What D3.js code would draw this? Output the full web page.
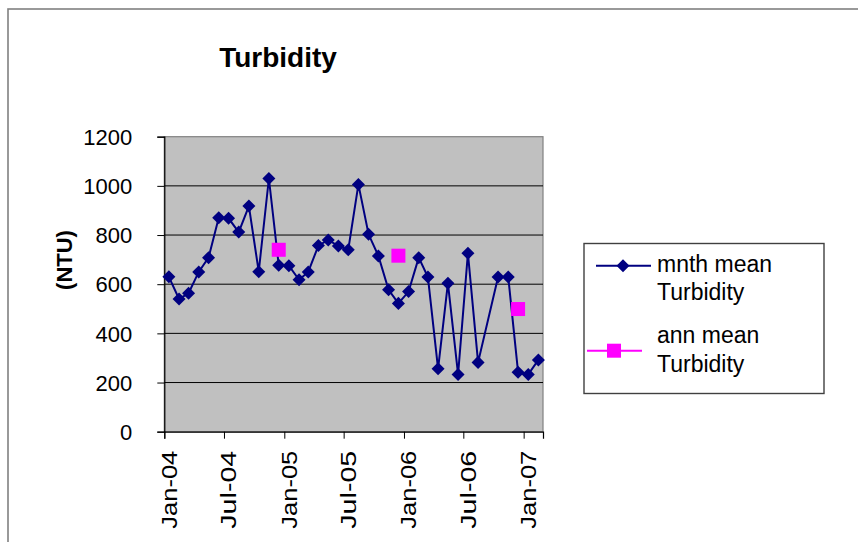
<!DOCTYPE html>
<html>
<head>
<meta charset="utf-8">
<script src="https://cdn.jsdelivr.net/npm/d3@7"></script>
<style>
  body { margin: 0; background: #fff; }
  text { font-family: "Liberation Sans", Arial, sans-serif; }
</style>
</head>
<body>
<script>
// monthly mean turbidity (NTU), Sep-06 has no reading
var months = ["2004-01","2004-02","2004-03","2004-04","2004-05","2004-06","2004-07","2004-08","2004-09","2004-10","2004-11","2004-12",
              "2005-01","2005-02","2005-03","2005-04","2005-05","2005-06","2005-07","2005-08","2005-09","2005-10","2005-11","2005-12",
              "2006-01","2006-02","2006-03","2006-04","2006-05","2006-06","2006-07","2006-08","2006-10","2006-11","2006-12",
              "2007-01","2007-02"];
var mnthMean = [630,540,563,650,708,870,868,812,918,651,1030,677,
                675,618,650,757,780,755,740,1006,803,715,577,522,
                570,708,629,256,604,233,726,282,629,629,242,
                233,292];

// annual means, plotted in December
var years = ["2004-12","2005-12","2006-12"];
var annMean = [740,716,499];

var yTicks = [0,200,400,600,800,1000,1200];

var w = 858;
var h = 542;
var pLeft = 164.3, pRight = 543, pTop = 136.7, pBottom = 431.7;

var parse = d3.timeParse("%Y-%m-%d");
function mid(m) { return parse(m + "-15"); }

var x = d3.scaleTime()
  .domain([parse("2004-01-01"), parse("2007-03-01")])
  .range([pLeft, pRight]);
var y = d3.scaleLinear()
  .domain([0, 1200])
  .range([pBottom, pTop]);

var svg = d3.select("body")
  .append("svg")
  .attr("width", w)
  .attr("height", h);

// outer chart frame (cut off at right and bottom)
svg.append("rect")
  .attr("x", 8)
  .attr("y", 9)
  .attr("width", w + 20)
  .attr("height", h + 20)
  .attr("fill", "#fff")
  .attr("stroke", "#808080")
  .attr("stroke-width", 1.6);

// title
svg.append("text")
  .attr("x", 278)
  .attr("y", 67)
  .attr("text-anchor", "middle")
  .attr("font-size", 28)
  .attr("font-weight", "bold")
  .text("Turbidity");

// plot area
svg.append("rect")
  .attr("x", pLeft)
  .attr("y", pTop)
  .attr("width", pRight - pLeft)
  .attr("height", pBottom - pTop)
  .attr("fill", "#c0c0c0")
  .attr("stroke", "#808080")
  .attr("stroke-width", 1.2);

svg.selectAll("line.grid")
  .data(yTicks.slice(1, -1))
  .enter()
  .append("line")
  .attr("class", "grid")
  .attr("x1", pLeft)
  .attr("x2", pRight)
  .attr("y1", function(d) { return y(d); })
  .attr("y2", function(d) { return y(d); })
  .attr("stroke", "#000")
  .attr("stroke-width", 1);

// y axis
var yAxis = svg.append("g")
  .attr("transform", "translate(" + pLeft + ",0)")
  .call(d3.axisLeft(y).tickValues(yTicks).tickFormat(d3.format("d")).tickSize(7).tickPadding(25));
yAxis.select(".domain").attr("stroke", "#000").attr("stroke-width", 1.2);
yAxis.selectAll(".tick line").attr("stroke", "#000");
yAxis.selectAll(".tick text")
  .attr("font-size", 22)
  .attr("fill", "#000")
  .attr("dy", "0.35em");

svg.append("text")
  .attr("transform", "translate(72,260) rotate(-90)")
  .attr("text-anchor", "middle")
  .attr("font-size", 22)
  .attr("font-weight", "bold")
  .text("(NTU)");

// x axis
var xAxis = svg.append("g")
  .attr("transform", "translate(0," + pBottom + ")")
  .call(d3.axisBottom(x)
    .ticks(d3.timeMonth.every(6))
    .tickFormat(d3.timeFormat("%b-%y"))
    .tickSize(7));
xAxis.select(".domain").attr("stroke", "#000").attr("stroke-width", 1.2);
xAxis.selectAll(".tick line").attr("stroke", "#000");
xAxis.selectAll(".tick text")
  .attr("font-size", 22)
  .attr("fill", "#000")
  .attr("text-anchor", "end")
  .attr("transform", "translate(12,19) rotate(-90)")
  .attr("x", 0)
  .attr("y", 0)
  .attr("dy", 0)
  .attr("textLength", 78)
  .attr("lengthAdjust", "spacingAndGlyphs");

// monthly series
var diamond = d3.symbol().type(d3.symbolDiamond2).size(108);

svg.append("path")
  .datum(months)
  .attr("fill", "none")
  .attr("stroke", "#000080")
  .attr("stroke-width", 2)
  .attr("d", d3.line()
    .x(function(d) { return x(mid(d)); })
    .y(function(d, i) { return y(mnthMean[i]); }));

svg.selectAll("path.mnth")
  .data(months)
  .enter()
  .append("path")
  .attr("class", "mnth")
  .attr("transform", function(d, i) {
    return "translate(" + x(mid(d)) + "," + y(mnthMean[i]) + ")";
  })
  .attr("d", diamond)
  .attr("fill", "#000080");

// annual means
svg.selectAll("rect.ann")
  .data(years)
  .enter()
  .append("rect")
  .attr("class", "ann")
  .attr("x", function(d) { return x(mid(d)) - 7; })
  .attr("y", function(d, i) { return y(annMean[i]) - 7; })
  .attr("width", 14)
  .attr("height", 14)
  .attr("fill", "#ff00ff");

// legend
var lg = svg.append("g");
lg.append("rect")
  .attr("x", 584)
  .attr("y", 243.5)
  .attr("width", 240)
  .attr("height", 150)
  .attr("fill", "#fff")
  .attr("stroke", "#404040")
  .attr("stroke-width", 1.4);

lg.append("line")
  .attr("x1", 596).attr("x2", 651)
  .attr("y1", 265.7).attr("y2", 265.7)
  .attr("stroke", "#000080")
  .attr("stroke-width", 2);
lg.append("path")
  .attr("transform", "translate(623,265.7)")
  .attr("d", diamond)
  .attr("fill", "#000080");

lg.append("line")
  .attr("x1", 587).attr("x2", 642)
  .attr("y1", 350.7).attr("y2", 350.7)
  .attr("stroke", "#ff00ff")
  .attr("stroke-width", 2);
lg.append("rect")
  .attr("x", 607).attr("y", 343.7)
  .attr("width", 14).attr("height", 14)
  .attr("fill", "#ff00ff");

var legendLines = [["mnth mean", 271.7], ["Turbidity", 300], ["ann mean", 343.3], ["Turbidity", 371.7]];
lg.selectAll("text")
  .data(legendLines)
  .enter()
  .append("text")
  .attr("x", 657)
  .attr("y", function(d) { return d[1]; })
  .attr("font-size", 23)
  .text(function(d) { return d[0]; });
</script>
</body>
</html>
